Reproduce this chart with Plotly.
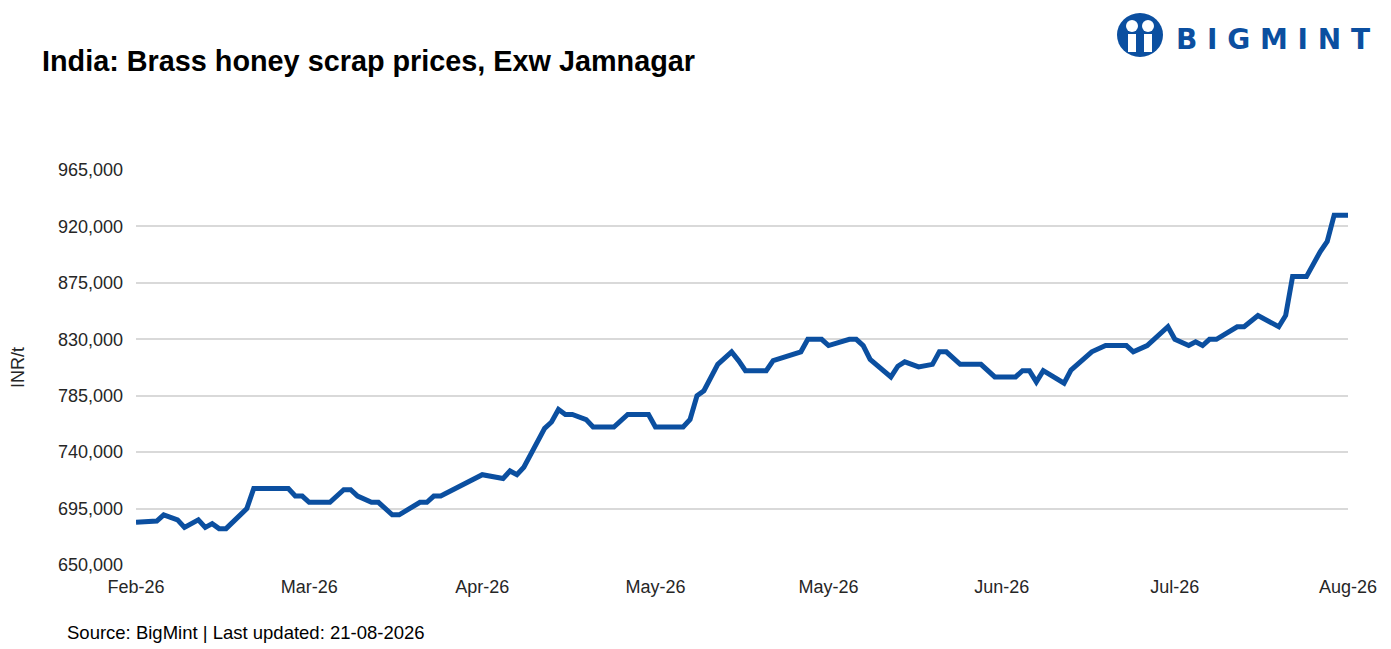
import plotly.graph_objects as go

# price points (index = trading-day position, value = INR/t)
day = [0, 3, 4, 6, 7, 9, 10, 11, 12, 13, 16, 17, 22, 23, 24, 25, 28, 30, 31, 32,
       34, 35, 37, 38, 41, 42, 43, 44, 50, 53, 54, 55, 56, 59, 60, 61, 62, 63, 65, 66,
       69, 71, 74, 75, 79, 80, 81, 82, 84, 86, 87, 88, 91, 92, 96, 97, 99, 100, 103, 104,
       105, 106, 109, 110, 111, 113, 115, 116, 117, 119, 122, 124, 127, 128, 129, 130, 131, 134, 135, 138,
       140, 143, 144, 146, 149, 150, 152, 153, 154, 155, 156, 159, 160, 161, 162, 165, 166, 167, 169, 171,
       172, 173, 175]
price = [684000, 685000, 690000, 686000, 680000, 686000, 680000, 683000, 679000, 679000,
         695000, 711000, 711000, 705000, 705000, 700000, 700000, 710000, 710000, 705000,
         700000, 700000, 690000, 690000, 700000, 700000, 705000, 705000, 722000, 719000,
         725000, 722000, 728000, 759000, 764000, 774000, 770000, 770000, 766000, 760000,
         760000, 770000, 770000, 760000, 760000, 766000, 785000, 789000, 810000, 820000,
         813000, 805000, 805000, 813000, 820000, 830000, 830000, 825000, 830000, 830000,
         825000, 814000, 800000, 808500, 812000, 808000, 810000, 820000, 820000, 810000,
         810000, 800000, 800000, 805000, 805000, 796000, 805000, 795000, 805500, 820000,
         825000, 825000, 820000, 825000, 840000, 830000, 825000, 828000, 825000, 830000,
         830000, 840000, 840000, 845000, 849000, 840000, 849000, 880000, 880000, 900000,
         908000, 929000, 929000]

tick_pos = [0, 25, 50, 75, 100, 125, 150, 175]
tick_text = ["Feb-26", "Mar-26", "Apr-26", "May-26", "May-26", "Jun-26", "Jul-26", "Aug-26"]
y_ticks = [650000, 695000, 740000, 785000, 830000, 875000, 920000, 965000]

blue = "#0b4fa0"
font = "Liberation Sans, Arial, sans-serif"
W, H = 1383, 641  # page has an 8px body margin


def px(x):  # page pixel -> paper x
    return (x - 136) / 1212


def py(y):  # page pixel -> paper y
    return (565 - y) / 395


fig = go.Figure()
fig.add_trace(go.Scatter(
    x=day, y=price, mode="lines",
    line=dict(color=blue, width=5),
    hoverinfo="y", showlegend=False,
))

fig.update_layout(
    width=W, height=H,
    paper_bgcolor="white", plot_bgcolor="white",
    margin=dict(l=128, r=43, t=162, b=84),
    font=dict(family=font, size=18, color="#262626"),
    title=dict(text="<b>India: Brass honey scrap prices, Exw Jamnagar</b>",
               x=34 / W, xanchor="left", y=1 - 53 / H, yanchor="middle",
               font=dict(size=28.8, color="#000000")),
)

fig.update_xaxes(
    range=[0, 175], tickvals=tick_pos, ticktext=tick_text,
    showgrid=False, zeroline=False, showline=False, ticks="", automargin=False,
    ticklabelstandoff=9,
    tickfont=dict(size=18, color="#262626"),
)
fig.update_yaxes(
    range=[650000, 965000], tickvals=y_ticks, tickformat=",",
    showgrid=True, gridcolor="#d9d9d9", gridwidth=1.5, automargin=False,
    zeroline=False, showline=False, ticks="", ticklabelstandoff=12,
    tickfont=dict(size=18, color="#262626"),
    title=dict(text="INR/t", font=dict(size=18, color="#262626"), standoff=28),
)

fig.add_annotation(
    text="Source: BigMint | Last updated: 21-08-2026",
    xref="paper", yref="paper", x=px(65), y=py(632),
    xanchor="left", yanchor="middle", showarrow=False,
    font=dict(size=18.5, color="#000000"),
)

# BigMint logo: blue disc with two white figures, then the word mark
cx, cy, r = 1140, 36, 23
fig.add_shape(type="circle", xref="paper", yref="paper",
              x0=px(cx - r), x1=px(cx + r), y0=py(cy + r - 2), y1=py(cy - r),
              fillcolor=blue, line=dict(width=0))
for hx in (cx - 8, cx + 8):
    fig.add_shape(type="circle", xref="paper", yref="paper",
                  x0=px(hx - 6), x1=px(hx + 6), y0=py(cy - 4), y1=py(cy - 16),
                  fillcolor="white", line=dict(width=0))
    fig.add_shape(type="rect", xref="paper", yref="paper",
                  x0=px(hx - 4), x1=px(hx + 4), y0=py(cy + 16), y1=py(cy - 2),
                  fillcolor="white", line=dict(width=0))
fig.add_annotation(
    text="<b>B I G M I N T</b>", xref="paper", yref="paper",
    x=px(1174), y=py(39), xanchor="left", yanchor="middle",
    showarrow=False, font=dict(size=28, color=blue, family="DejaVu Sans, sans-serif"),
)

fig.write_html("out.html")
